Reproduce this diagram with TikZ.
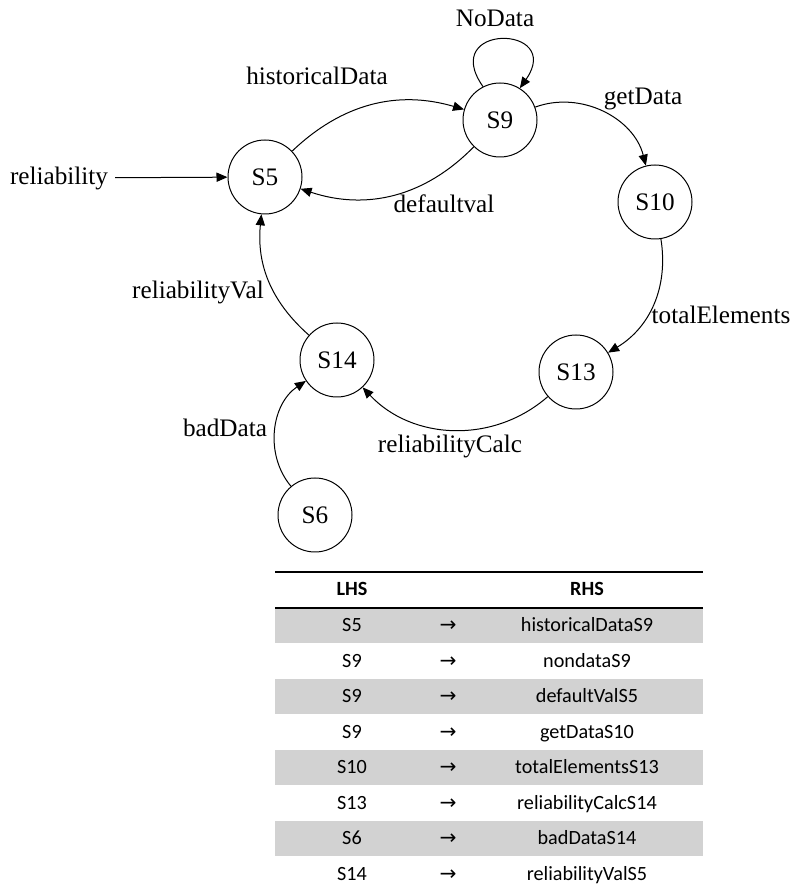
\documentclass[tikz,border=0pt]{standalone}
\usepackage{fontspec}
\setmainfont{Liberation Serif}
\newfontfamily\tablefont{Carlito}
\newfontfamily\arrowfont{DejaVu Sans}
\usetikzlibrary{arrows.meta,positioning}

\begin{document}
\begin{tikzpicture}[x=0.5pt, y=0.5pt,
  font=\fontsize{12.6}{15}\selectfont,
  state/.style={draw, circle, line width=0.5pt, minimum size=37pt, inner sep=0pt},
  trans/.style={-{Triangle[length=5.5pt,width=4.6pt]}, line width=0.5pt},
  cell/.style={font=\tablefont\fontsize{10.1}{12}\selectfont, inner sep=0pt, text height=7pt, text depth=1pt},
  shade/.style={fill=gray!35}]
  \useasboundingbox (0,0) rectangle (789,890);

  % States
  \node[state] (s5) at (265,713) {S5};
  \node[state] (s9) at (500,770) {S9};
  \node[state] (s10) at (655,688) {S10};
  \node[state] (s13) at (576,518) {S13};
  \node[state] (s14) at (337,530) {S14};
  \node[state] (s6) at (315,375) {S6};

  % Labels
  \node (start) at (59,712) {reliability};
  \node (lhist) at (317,814) {historicalData};
  \node (lnodata) at (495,872) {NoData};
  \node (lget) at (643,791) {getData};
  \node (ldef) at (444,686) {defaultval};
  \node (ltotal) at (721,575) {totalElements};
  \node (lrelval) at (198,598) {reliabilityVal};
  \node (lbad) at (225,462) {badData};
  \node (lcalc) at (450,444) {reliabilityCalc};

  % Transitions
  \draw[trans] (start) -- (s5);
  \draw[trans] (s5) to[bend left=30] (s9);
  \draw[trans] (s9) to[bend left=32] (s5);
  \draw[trans] (s9.117) .. controls +(125:78) and +(55:78) .. (s9.58);
  \draw[trans] (s9) to[bend left=48] (s10);
  \draw[trans] (s10) to[bend left=34] (s13);
  \draw[trans] (s13) to[bend left=44] (s14);
  \draw[trans] (s14) to[bend left=27] (s5);
  \draw[trans] (s6) to[bend left=48] (s14);

  % Table
  \fill[shade] (275,246.5) rectangle (703,281);
  \fill[shade] (275,175.5) rectangle (703,210.5);
  \fill[shade] (275,104.5) rectangle (703,139.5);
  \fill[shade] (275,33.5) rectangle (703,68.5);
  \draw[line width=0.7pt] (275,318) -- (703,318);
  \draw[line width=1pt] (275,282) -- (703,282);
  \node[cell, font=\tablefont\bfseries\fontsize{10.1}{12}\selectfont] (hl) at (352,300) {LHS};
  \node[cell, font=\tablefont\bfseries\fontsize{10.1}{12}\selectfont] (hr) at (587,300) {RHS};

  \node[cell] (l1) at (352,264.25) {S5};  \node[cell] (a1) at (448,264.25) {\arrowfont →}; \node[cell] (r1) at (587,264.25) {historicalDataS9};
  \node[cell] (l2) at (352,228.75) {S9};  \node[cell] (a2) at (448,228.75) {\arrowfont →}; \node[cell] (r2) at (587,228.75) {nondataS9};
  \node[cell] (l3) at (352,193.25) {S9};  \node[cell] (a3) at (448,193.25) {\arrowfont →}; \node[cell] (r3) at (587,193.25) {defaultValS5};
  \node[cell] (l4) at (352,157.75) {S9};  \node[cell] (a4) at (448,157.75) {\arrowfont →}; \node[cell] (r4) at (587,157.75) {getDataS10};
  \node[cell] (l5) at (352,122.25) {S10}; \node[cell] (a5) at (448,122.25) {\arrowfont →}; \node[cell] (r5) at (587,122.25) {totalElementsS13};
  \node[cell] (l6) at (352,86.75) {S13};  \node[cell] (a6) at (448,86.75) {\arrowfont →}; \node[cell] (r6) at (587,86.75) {reliabilityCalcS14};
  \node[cell] (l7) at (352,51.25) {S6};   \node[cell] (a7) at (448,51.25) {\arrowfont →}; \node[cell] (r7) at (587,51.25) {badDataS14};
  \node[cell] (l8) at (352,15.75) {S14};  \node[cell] (a8) at (448,15.75) {\arrowfont →}; \node[cell] (r8) at (587,15.75) {reliabilityValS5};
\end{tikzpicture}
\end{document}
